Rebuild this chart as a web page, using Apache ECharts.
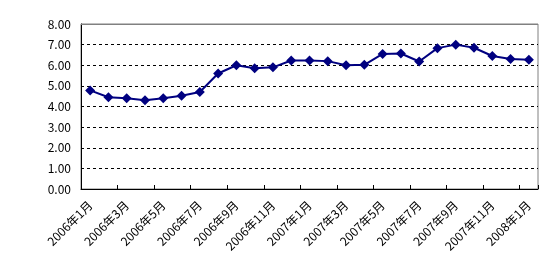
<!DOCTYPE html>
<html><head><meta charset="utf-8">
<script src="https://cdn.jsdelivr.net/npm/echarts@6/dist/echarts.min.js"></script>
<style>html,body{margin:0;padding:0;background:#fff}#c{width:554px;height:279px}</style>
</head><body><div id="c"></div>
<script>
const categories = ['2006年1月','2006年2月','2006年3月','2006年4月','2006年5月','2006年6月','2006年7月','2006年8月','2006年9月','2006年10月','2006年11月','2006年12月','2007年1月','2007年2月','2007年3月','2007年4月','2007年5月','2007年6月','2007年7月','2007年8月','2007年9月','2007年10月','2007年11月','2007年12月','2008年1月'];
const values = [4.78,4.45,4.40,4.30,4.40,4.52,4.70,5.60,6.00,5.85,5.90,6.23,6.23,6.20,6.00,6.02,6.55,6.57,6.18,6.83,7.00,6.85,6.45,6.30,6.27];
const yMin = 0, yMax = 8, yStep = 1;

const chart = echarts.init(document.getElementById('c'));
const font = '"SimSun","Noto Sans CJK SC",sans-serif';
chart.setOption({
  animation: false,
  grid: {left: 81, right: 16, top: 24, bottom: 90, show: true, borderColor: '#808080', borderWidth: 1, backgroundColor: '#fff'},
  xAxis: {
    type: 'category', data: categories, boundaryGap: true,
    axisLine: {lineStyle: {color: '#000', width: 1}},
    axisTick: {show: true, inside: true, length: 4, interval: 1, lineStyle: {color: '#000'}},
    axisLabel: {interval: 1, rotate: 45, color: '#000', fontSize: 12, fontFamily: font, margin: 14}
  },
  yAxis: {
    type: 'value', min: yMin, max: yMax, interval: yStep,
    axisLine: {show: true, lineStyle: {color: '#000', width: 1}},
    axisTick: {show: false},
    axisLabel: {color: '#000', fontSize: 12, fontFamily: font, margin: 10, formatter: v => v.toFixed(2)},
    splitLine: {show: true, lineStyle: {color: '#000', type: [3, 3], width: 1}}
  },
  series: [{
    type: 'line', data: values,
    lineStyle: {color: '#000080', width: 2},
    itemStyle: {color: '#000080'},
    symbol: 'diamond', symbolSize: 10, showSymbol: true,
    markLine: {silent: true, symbol: 'none', label: {show: false},
      lineStyle: {color: '#808080', type: 'solid', width: 1},
      data: [{yAxis: yMax}], animation: false}
  }]
});
</script></body></html>
